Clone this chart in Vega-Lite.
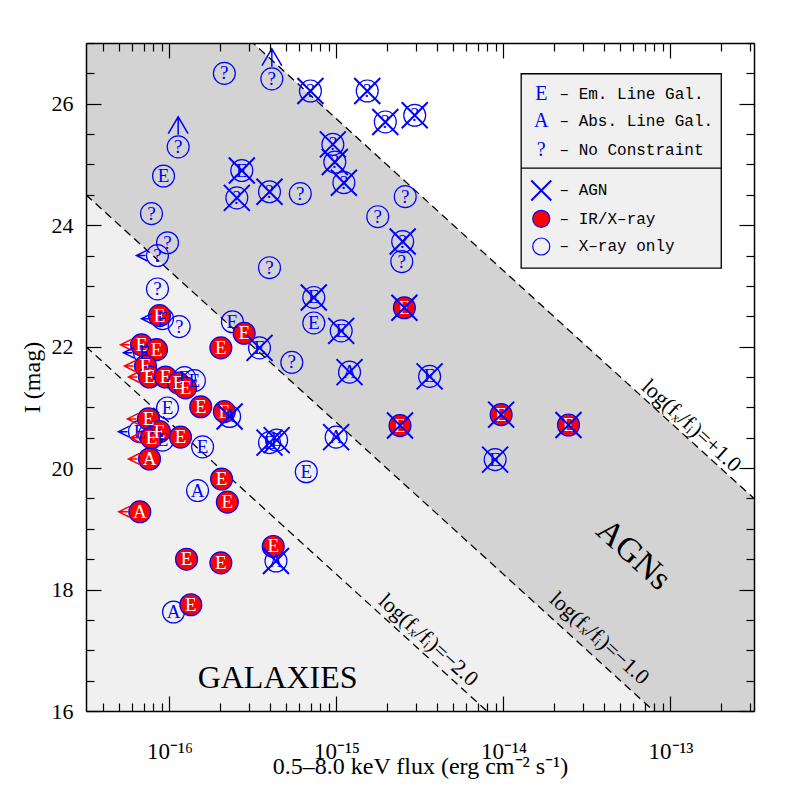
{
  "$schema": "https://vega.github.io/schema/vega-lite/v6.json",
  "width": 668,
  "height": 668,
  "autosize": {"type": "none"},
  "padding": {"left": 86, "top": 43, "right": 43, "bottom": 86},
  "background": "white",
  "config": {"view": {"stroke": null}},
  "datasets": {
    "regions": [
      {"band": "light", "f": 3.16228e-17, "I": 24.5, "I2": 16},
      {"band": "light", "f": 3.16228e-13, "I": 14.5, "I2": 16},
      {"band": "dark", "f": 3.16228e-17, "I": 29.5, "I2": 24.5},
      {"band": "dark", "f": 3.16228e-13, "I": 19.5, "I2": 14.5}
    ],
    "lines": [
      {"line": "p1", "f": 3.16228e-17, "I": 29.5},
      {"line": "p1", "f": 3.16228e-13, "I": 19.5},
      {"line": "m1", "f": 3.16228e-17, "I": 24.5},
      {"line": "m1", "f": 3.16228e-13, "I": 14.5},
      {"line": "m2", "f": 3.16228e-17, "I": 22.0},
      {"line": "m2", "f": 3.16228e-13, "I": 12.0}
    ],
    "lineLabels": [
      {"f": 1.337e-13, "I": 20.70, "label": "log(fₓ/fᵢ)=+1.0"},
      {"f": 3.76e-14, "I": 17.20, "label": "log(fₓ/fᵢ)=−1.0"},
      {"f": 3.56e-15, "I": 17.17, "label": "log(fₓ/fᵢ)=−2.0"}
    ],
    "galLabel": [{"f": 4.44e-16, "I": 16.38, "label": "GALAXIES"}],
    "agnLabel": [{"f": 6.0e-14, "I": 18.57, "label": "AGNs"}],
    "points": [
      {"f": 2.13e-16, "I": 26.50, "t": "?"},
      {"f": 4.10e-16, "I": 26.41, "t": "?", "ll": true},
      {"f": 1.127e-16, "I": 25.29, "t": "?", "ll": true},
      {"f": 9.21e-17, "I": 24.81, "t": "E"},
      {"f": 7.80e-17, "I": 24.19, "t": "?"},
      {"f": 9.73e-17, "I": 23.71, "t": "?"},
      {"f": 8.47e-17, "I": 23.50, "t": "?", "ul": true},
      {"f": 2.71e-16, "I": 24.90, "t": "E", "agn": true},
      {"f": 2.53e-16, "I": 24.45, "t": "?", "agn": true},
      {"f": 3.97e-16, "I": 24.55, "t": "?", "agn": true},
      {"f": 6.07e-16, "I": 24.52, "t": "?"},
      {"f": 6.98e-16, "I": 26.21, "t": "?", "agn": true},
      {"f": 1.528e-15, "I": 26.21, "t": "?", "agn": true},
      {"f": 1.96e-15, "I": 25.70, "t": "?", "agn": true},
      {"f": 2.94e-15, "I": 25.81, "t": "?", "agn": true},
      {"f": 9.51e-16, "I": 25.33, "t": "?", "agn": true},
      {"f": 9.77e-16, "I": 25.04, "t": "?", "agn": true},
      {"f": 1.107e-15, "I": 24.70, "t": "?", "agn": true},
      {"f": 2.58e-15, "I": 24.47, "t": "?"},
      {"f": 1.766e-15, "I": 24.14, "t": "?"},
      {"f": 2.49e-15, "I": 23.73, "t": "?", "agn": true},
      {"f": 2.46e-15, "I": 23.40, "t": "?"},
      {"f": 3.97e-16, "I": 23.30, "t": "?"},
      {"f": 7.31e-16, "I": 22.81, "t": "E", "agn": true},
      {"f": 7.31e-16, "I": 22.39, "t": "E"},
      {"f": 1.067e-15, "I": 22.26, "t": "E", "agn": true},
      {"f": 2.55e-15, "I": 22.64, "t": "E", "ir": true, "agn": true},
      {"f": 3.46e-16, "I": 21.98, "t": "E", "agn": true},
      {"f": 5.40e-16, "I": 21.74, "t": "?"},
      {"f": 1.197e-15, "I": 21.58, "t": "A", "agn": true},
      {"f": 3.61e-15, "I": 21.51, "t": "E", "agn": true},
      {"f": 2.40e-15, "I": 20.70, "t": "E", "ir": true, "agn": true},
      {"f": 9.68e-15, "I": 20.88, "t": "E", "ir": true, "agn": true},
      {"f": 8.91e-15, "I": 20.14, "t": "E", "agn": true},
      {"f": 9.95e-16, "I": 20.51, "t": "A", "agn": true},
      {"f": 3.97e-16, "I": 20.42, "t": "E", "agn": true},
      {"f": 4.38e-16, "I": 20.46, "t": "E", "agn": true},
      {"f": 6.59e-16, "I": 19.94, "t": "E"},
      {"f": 2.45e-14, "I": 20.71, "t": "E", "ir": true, "agn": true},
      {"f": 2.38e-16, "I": 22.41, "t": "E"},
      {"f": 2.80e-16, "I": 22.22, "t": "E", "ir": true},
      {"f": 2.03e-16, "I": 21.98, "t": "E", "ir": true},
      {"f": 1.143e-16, "I": 22.33, "t": "?"},
      {"f": 8.47e-17, "I": 22.95, "t": "?"},
      {"f": 9.08e-17, "I": 22.46, "t": "E", "ul": true},
      {"f": 8.71e-17, "I": 22.51, "t": "E", "ir": true},
      {"f": 6.80e-17, "I": 22.03, "t": "E", "ir": true, "ul": true},
      {"f": 8.36e-17, "I": 21.95, "t": "E", "ir": true},
      {"f": 7.08e-17, "I": 21.90, "t": "E", "ul": true},
      {"f": 7.18e-17, "I": 21.68, "t": "E", "ir": true, "ul": true},
      {"f": 7.59e-17, "I": 21.50, "t": "E", "ir": true, "ul": true},
      {"f": 9.47e-17, "I": 21.50, "t": "E", "ir": true},
      {"f": 1.132e-16, "I": 21.40, "t": "E", "ir": true},
      {"f": 1.230e-16, "I": 21.49, "t": "E"},
      {"f": 1.41e-16, "I": 21.44, "t": "E"},
      {"f": 1.247e-16, "I": 21.32, "t": "E", "ir": true},
      {"f": 9.73e-17, "I": 20.99, "t": "E"},
      {"f": 1.538e-16, "I": 21.01, "t": "E", "ir": true},
      {"f": 2.13e-16, "I": 20.93, "t": "E", "ir": true},
      {"f": 2.29e-16, "I": 20.85, "t": "A", "agn": true},
      {"f": 7.48e-17, "I": 20.81, "t": "E", "ir": true, "ul": true},
      {"f": 6.61e-17, "I": 20.60, "t": "E", "ul": true},
      {"f": 7.59e-17, "I": 20.55, "t": "?"},
      {"f": 8.71e-17, "I": 20.60, "t": "E", "ir": true},
      {"f": 7.80e-17, "I": 20.50, "t": "E", "ir": true, "ul": true},
      {"f": 9.08e-17, "I": 20.46, "t": "E"},
      {"f": 7.59e-17, "I": 20.15, "t": "A", "ir": true, "ul": true},
      {"f": 1.164e-16, "I": 20.51, "t": "E", "ir": true},
      {"f": 1.578e-16, "I": 20.35, "t": "E"},
      {"f": 1.472e-16, "I": 19.63, "t": "A"},
      {"f": 2.05e-16, "I": 19.82, "t": "E", "ir": true},
      {"f": 2.22e-16, "I": 19.44, "t": "E", "ir": true},
      {"f": 6.64e-17, "I": 19.28, "t": "A", "ir": true, "ul": true},
      {"f": 1.265e-16, "I": 18.50, "t": "E", "ir": true},
      {"f": 2.03e-16, "I": 18.44, "t": "E", "ir": true},
      {"f": 4.18e-16, "I": 18.71, "t": "E", "ir": true},
      {"f": 4.34e-16, "I": 18.47, "t": "A", "agn": true},
      {"f": 1.057e-16, "I": 17.63, "t": "A"},
      {"f": 1.342e-16, "I": 17.75, "t": "E", "ir": true}
    ],
    "legendBox": [{"f": 1.276e-14, "f2": 2.014e-13, "I": 26.494, "I2": 23.293}],
    "legendDiv": [{"f": 1.276e-14, "f2": 2.014e-13, "I": 24.941}],
    "legendSym": [
      {"f": 1.683e-14, "I": 26.165, "k": "letter", "s": "E"},
      {"f": 1.683e-14, "I": 25.709, "k": "letter", "s": "A"},
      {"f": 1.683e-14, "I": 25.242, "k": "letter", "s": "?"},
      {"f": 1.683e-14, "I": 24.572, "k": "agn", "s": ""},
      {"f": 1.683e-14, "I": 24.105, "k": "ir", "s": ""},
      {"f": 1.683e-14, "I": 23.649, "k": "open", "s": ""}
    ],
    "legendText": [
      {"f": 2.163e-14, "I": 26.165, "label": "– Em. Line Gal."},
      {"f": 2.163e-14, "I": 25.709, "label": "– Abs. Line Gal."},
      {"f": 2.163e-14, "I": 25.242, "label": "– No Constraint"},
      {"f": 2.163e-14, "I": 24.572, "label": "– AGN"},
      {"f": 2.163e-14, "I": 24.105, "label": "– IR/X–ray"},
      {"f": 2.163e-14, "I": 23.649, "label": "– X–ray only"}
    ]
  },
  "encoding": {
    "x": {"field": "f", "type": "quantitative", "scale": {"type": "log", "domain": [3.16228e-17, 3.16228e-13], "nice": false}, "axis": null},
    "y": {"field": "I", "type": "quantitative", "scale": {"domain": [16, 27], "nice": false, "zero": false}, "axis": null}
  },
  "layer": [
    {
      "data": {"name": "regions"},
      "transform": [{"filter": "datum.band == 'light'"}],
      "mark": {"type": "area", "clip": true, "color": "#f0f0f0", "opacity": 1},
      "encoding": {
        "x": {"field": "f", "type": "quantitative", "scale": {"type": "log", "domain": [3.16228e-17, 3.16228e-13], "nice": false},
          "axis": {
            "orient": "bottom",
            "zindex": 1,
            "values": [4e-17, 5e-17, 6e-17, 7e-17, 8e-17, 9e-17, 1e-16, 2e-16, 3e-16, 4e-16, 5e-16, 6e-16, 7e-16, 8e-16, 9e-16, 1e-15, 2e-15, 3e-15, 4e-15, 5e-15, 6e-15, 7e-15, 8e-15, 9e-15, 1e-14, 2e-14, 3e-14, 4e-14, 5e-14, 6e-14, 7e-14, 8e-14, 9e-14, 1e-13, 2e-13, 3e-13],
            "tickSize": {"condition": {"test": "abs(log(datum.value)/LN10 - round(log(datum.value)/LN10)) < 0.001", "value": -15}, "value": -8},
            "labelExpr": "abs(log(datum.value)/LN10+16)<0.01 ? '10⁻¹⁶' : abs(log(datum.value)/LN10+15)<0.01 ? '10⁻¹⁵' : abs(log(datum.value)/LN10+14)<0.01 ? '10⁻¹⁴' : abs(log(datum.value)/LN10+13)<0.01 ? '10⁻¹³' : ''",
            "labelPadding": 44,
            "labelOverlap": false,
            "labelFlush": false,
            "labelFont": "Liberation Serif",
            "labelFontSize": 23,
            "labelColor": "black",
            "title": "0.5–8.0 keV flux (erg cm⁻² s⁻¹)",
            "titleFont": "Liberation Serif",
            "titleFontSize": 24,
            "titleFontWeight": "normal",
            "titleColor": "black",
            "titleY": 62,
            "titleBaseline": "alphabetic",
            "domainColor": "black",
            "domainWidth": 1.5,
            "tickColor": "black",
            "tickWidth": 1.2,
            "grid": false
          }
        },
        "y": {"field": "I", "type": "quantitative", "scale": {"domain": [16, 27], "nice": false, "zero": false},
          "axis": {
            "orient": "left",
            "zindex": 1,
            "values": [16, 16.5, 17, 17.5, 18, 18.5, 19, 19.5, 20, 20.5, 21, 21.5, 22, 22.5, 23, 23.5, 24, 24.5, 25, 25.5, 26, 26.5, 27],
            "tickSize": {"condition": {"test": "datum.value % 2 == 0", "value": -15}, "value": -8},
            "labelExpr": "datum.value % 2 == 0 ? format(datum.value, 'd') : ''",
            "labelPadding": 28,
            "labelOverlap": false,
            "labelFlush": false,
            "labelFont": "Liberation Serif",
            "labelFontSize": 22,
            "labelColor": "black",
            "title": "I (mag)",
            "titleFont": "Liberation Serif",
            "titleFontSize": 24,
            "titleFontWeight": "normal",
            "titleColor": "black",
            "titleX": -47,
            "titleY": 334,
            "titleAngle": -90,
            "titleAlign": "center",
            "titleBaseline": "alphabetic",
            "domainColor": "black",
            "domainWidth": 1.5,
            "tickColor": "black",
            "tickWidth": 1.2,
            "grid": false
          }
        },
        "y2": {"field": "I2"}
      }
    },
    {
      "data": {"name": "regions"},
      "transform": [{"filter": "datum.band == 'dark'"}],
      "mark": {"type": "area", "clip": true, "color": "#d3d3d3", "opacity": 1},
      "encoding": {
        "x": {"field": "f", "type": "quantitative", "scale": {"type": "log", "domain": [3.16228e-17, 3.16228e-13], "nice": false},
          "axis": {
            "orient": "top",
            "zindex": 1,
            "values": [4e-17, 5e-17, 6e-17, 7e-17, 8e-17, 9e-17, 1e-16, 2e-16, 3e-16, 4e-16, 5e-16, 6e-16, 7e-16, 8e-16, 9e-16, 1e-15, 2e-15, 3e-15, 4e-15, 5e-15, 6e-15, 7e-15, 8e-15, 9e-15, 1e-14, 2e-14, 3e-14, 4e-14, 5e-14, 6e-14, 7e-14, 8e-14, 9e-14, 1e-13, 2e-13, 3e-13],
            "tickSize": {"condition": {"test": "abs(log(datum.value)/LN10 - round(log(datum.value)/LN10)) < 0.001", "value": -15}, "value": -8},
            "labels": false,
            "title": null,
            "domainColor": "black",
            "domainWidth": 1.5,
            "tickColor": "black",
            "tickWidth": 1.2,
            "grid": false
          }
        },
        "y": {"field": "I", "type": "quantitative", "scale": {"domain": [16, 27], "nice": false, "zero": false},
          "axis": {
            "orient": "right",
            "zindex": 1,
            "values": [16, 16.5, 17, 17.5, 18, 18.5, 19, 19.5, 20, 20.5, 21, 21.5, 22, 22.5, 23, 23.5, 24, 24.5, 25, 25.5, 26, 26.5, 27],
            "tickSize": {"condition": {"test": "datum.value % 2 == 0", "value": -15}, "value": -8},
            "labels": false,
            "title": null,
            "domainColor": "black",
            "domainWidth": 1.5,
            "tickColor": "black",
            "tickWidth": 1.2,
            "grid": false
          }
        },
        "y2": {"field": "I2"}
      }
    },
    {
      "data": {"name": "lines"},
      "mark": {"type": "line", "clip": true, "color": "black", "strokeWidth": 1.3, "strokeDash": [8, 5]},
      "encoding": {"detail": {"field": "line"}}
    },
    {
      "data": {"name": "lineLabels"},
      "mark": {"type": "text", "angle": 42.3, "font": "Liberation Serif", "fontSize": 22, "color": "black", "align": "center", "baseline": "middle"},
      "encoding": {"text": {"field": "label"}}
    },
    {
      "data": {"name": "galLabel"},
      "mark": {"type": "text", "font": "Liberation Serif", "fontSize": 32, "color": "black", "align": "center", "baseline": "alphabetic"},
      "encoding": {"text": {"field": "label"}}
    },
    {
      "data": {"name": "agnLabel"},
      "mark": {"type": "text", "angle": 42.3, "font": "Liberation Serif", "fontSize": 34, "color": "black", "align": "center", "baseline": "middle"},
      "encoding": {"text": {"field": "label"}}
    },
    {
      "data": {"name": "points"},
      "transform": [{"filter": "!datum.ir"}],
      "mark": {"type": "point", "shape": "circle", "filled": false, "stroke": "#0000ff", "strokeWidth": 1.2, "size": 480, "opacity": 1}
    },
    {
      "data": {"name": "points"},
      "transform": [{"filter": "datum.ir"}],
      "mark": {"type": "point", "shape": "circle", "filled": true, "fill": "#ff0000", "stroke": "#0000ff", "strokeWidth": 1.2, "size": 480, "opacity": 1}
    },
    {
      "data": {"name": "points"},
      "mark": {"type": "text", "font": "Liberation Serif", "fontSize": 19, "align": "center", "baseline": "middle"},
      "encoding": {
        "text": {"field": "t"},
        "color": {"condition": {"test": "datum.ir", "value": "#ffffff"}, "value": "#0000ff"}
      }
    },
    {
      "data": {"name": "points"},
      "transform": [{"filter": "datum.agn"}],
      "mark": {"type": "point", "shape": "M-1,-1L1,1M-1,1L1,-1", "filled": false, "stroke": "#0000ff", "strokeWidth": 2, "size": 676, "opacity": 1}
    },
    {
      "data": {"name": "points"},
      "transform": [{"filter": "datum.ul"}],
      "mark": {"type": "point", "shape": "M-0.57,0L-1,0M-0.48,-0.26L-1,0L-0.48,0.26", "filled": false, "strokeWidth": 1.5, "size": 1764, "opacity": 1},
      "encoding": {
        "stroke": {"condition": {"test": "datum.ir", "value": "#ff0000"}, "value": "#0000ff"}
      }
    },
    {
      "data": {"name": "points"},
      "transform": [{"filter": "datum.ll"}],
      "mark": {"type": "point", "shape": "M0,-0.4L0,-1M-0.33,-0.44L0,-1L0.33,-0.44", "filled": false, "stroke": "#0000ff", "strokeWidth": 1.5, "size": 3600, "opacity": 1}
    },
    {
      "data": {"name": "legendBox"},
      "mark": {"type": "rect", "fill": "#f0f0f0", "stroke": "black", "strokeWidth": 1.3},
      "encoding": {"x2": {"field": "f2"}, "y2": {"field": "I2"}}
    },
    {
      "data": {"name": "legendDiv"},
      "mark": {"type": "rule", "color": "black", "strokeWidth": 1.3},
      "encoding": {"x2": {"field": "f2"}}
    },
    {
      "data": {"name": "legendSym"},
      "transform": [{"filter": "datum.k == 'letter'"}],
      "mark": {"type": "text", "font": "Liberation Serif", "fontSize": 20, "color": "#0000ff", "align": "center", "baseline": "middle"},
      "encoding": {"text": {"field": "s"}}
    },
    {
      "data": {"name": "legendSym"},
      "transform": [{"filter": "datum.k == 'agn'"}],
      "mark": {"type": "point", "shape": "M-1,-1L1,1M-1,1L1,-1", "filled": false, "stroke": "#0000ff", "strokeWidth": 2, "size": 400, "opacity": 1}
    },
    {
      "data": {"name": "legendSym"},
      "transform": [{"filter": "datum.k == 'ir'"}],
      "mark": {"type": "point", "shape": "circle", "filled": true, "fill": "#ff0000", "stroke": "#0000ff", "strokeWidth": 1.2, "size": 290, "opacity": 1}
    },
    {
      "data": {"name": "legendSym"},
      "transform": [{"filter": "datum.k == 'open'"}],
      "mark": {"type": "point", "shape": "circle", "filled": false, "stroke": "#0000ff", "strokeWidth": 1.2, "size": 290, "opacity": 1}
    },
    {
      "data": {"name": "legendText"},
      "mark": {"type": "text", "font": "Liberation Mono", "fontSize": 16, "color": "black", "align": "left", "baseline": "middle"},
      "encoding": {"text": {"field": "label"}}
    }
  ],
  "resolve": {"axis": {"x": "independent", "y": "independent"}}
}
